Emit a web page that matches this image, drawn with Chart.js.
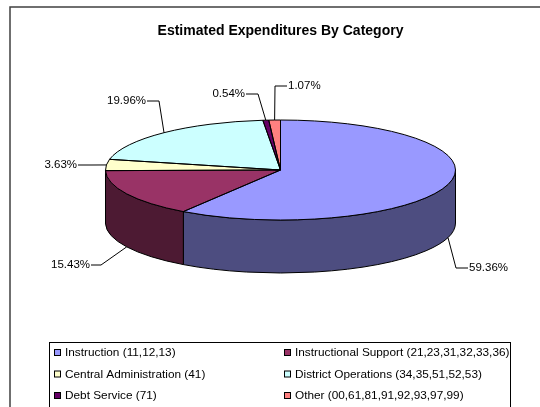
<!DOCTYPE html>
<html>
<head>
<meta charset="utf-8">
<title>Estimated Expenditures By Category</title>
<script src="https://cdn.jsdelivr.net/npm/chart.js@4"></script>
<style>
  html, body { margin: 0; padding: 0; background: #fff; overflow: hidden; }
  canvas { display: block; }
</style>
</head>
<body>
<canvas id="myCanvas" width="540" height="407"></canvas>
<script>
const categories = [
  "Instruction (11,12,13)",
  "Instructional Support (21,23,31,32,33,36)",
  "Central Administration (41)",
  "District Operations (34,35,51,52,53)",
  "Debt Service (71)",
  "Other (00,61,81,91,92,93,97,99)",
];
const percentages = [59.36, 15.43, 3.63, 19.96, 0.54, 1.07];
const sliceColors = ["#9999FF", "#993366", "#FFFFCC", "#CCFFFF", "#660066", "#FF8080"];
const wallColors = ["#4D4D80", "#4D1A33", "#808066", "#668080", "#330033", "#804040"];

const FONT = '"Liberation Sans", Arial, sans-serif';
const centerY = 170;
const squash = 50 / 175;
const depth = 53;

// where each percentage label sits: knee of the leader line, then its end
const leaders = [
  { knee: [456, 268], end: [468, 268], align: "left" },
  { knee: [101, 265], end: [91, 265], align: "right" },
  { knee: [92, 165], end: [78, 165], align: "right" },
  { knee: [159, 101], end: [147, 101], align: "right" },
  { knee: [258, 94], end: [246, 94], align: "right" },
  { knee: [275, 86], end: [287, 86], align: "left" },
];

function drawFrame(ctx) {
  ctx.save();
  ctx.strokeStyle = "#404040";
  ctx.lineWidth = 1.5;
  ctx.strokeRect(10, 7, 560, 430);
  ctx.restore();
}

function drawWalls(chart) {
  const ctx = chart.ctx;
  chart.getDatasetMeta(0).data.forEach(function (arc, i) {
    // only the front half of the rim can be seen
    let start = arc.startAngle;
    let end = arc.endAngle;
    const pieces = [[start, end], [start - Math.PI * 2, end - Math.PI * 2]];
    pieces.forEach(function (p) {
      const a = Math.max(p[0], 0);
      const b = Math.min(p[1], Math.PI);
      if (b <= a) return;
      const rx = arc.outerRadius;
      const ry = rx * squash;
      ctx.beginPath();
      ctx.ellipse(arc.x, centerY, rx, ry, 0, a, b);
      ctx.lineTo(arc.x + rx * Math.cos(b), centerY + ry * Math.sin(b) + depth);
      ctx.ellipse(arc.x, centerY + depth, rx, ry, 0, b, a, true);
      ctx.closePath();
      ctx.fillStyle = wallColors[i];
      ctx.fill();
      ctx.strokeStyle = "#000";
      ctx.lineWidth = 1;
      ctx.stroke();
    });
  });
}

function outlineTop(chart) {
  const ctx = chart.ctx;
  chart.getDatasetMeta(0).data.forEach(function (arc) {
    const rx = arc.outerRadius;
    ctx.beginPath();
    ctx.ellipse(arc.x, centerY, rx, rx * squash, 0, arc.startAngle, arc.endAngle);
    ctx.lineTo(arc.x, centerY);
    ctx.closePath();
    ctx.strokeStyle = "#000";
    ctx.lineWidth = 1;
    ctx.stroke();
  });
}

function drawLabels(chart) {
  const ctx = chart.ctx;
  ctx.save();
  ctx.font = "11.5px " + FONT;
  ctx.textBaseline = "middle";
  chart.getDatasetMeta(0).data.forEach(function (arc, i) {
    const mid = (arc.startAngle + arc.endAngle) / 2;
    const rx = arc.outerRadius;
    const sinMid = Math.sin(mid);
    const x = arc.x + rx * Math.cos(mid);
    const y = centerY + rx * squash * sinMid + (sinMid > 0 ? depth : 0);
    const l = leaders[i];
    ctx.beginPath();
    ctx.moveTo(x, y);
    ctx.lineTo(l.knee[0], l.knee[1]);
    ctx.lineTo(l.end[0], l.end[1]);
    ctx.strokeStyle = "#000";
    ctx.lineWidth = 1;
    ctx.stroke();
    ctx.fillStyle = "#000";
    ctx.textAlign = l.align;
    const gap = l.align === "left" ? 1 : -1;
    ctx.fillText(percentages[i].toFixed(2) + "%", l.end[0] + gap, l.end[1]);
  });
  ctx.restore();
}

function drawLegend(chart) {
  const ctx = chart.ctx;
  ctx.save();
  ctx.strokeStyle = "#000";
  ctx.lineWidth = 1;
  ctx.strokeRect(49.5, 342.5, 461, 80);
  ctx.font = "11.8px " + FONT;
  ctx.textBaseline = "middle";
  ctx.textAlign = "left";
  categories.forEach(function (name, i) {
    const col = i % 2;
    const row = Math.floor(i / 2);
    const x = col === 0 ? 54.5 : 284.5;
    const y = 353 + row * 21.5;
    ctx.fillStyle = sliceColors[i];
    ctx.fillRect(x, y - 3.5, 6, 6);
    ctx.strokeRect(x, y - 3.5, 6, 6);
    ctx.fillStyle = "#000";
    ctx.fillText(name, x + 10.5, y);
  });
  ctx.restore();
}

const fakePie3d = {
  id: "fakePie3d",
  beforeDraw: function (chart) {
    drawFrame(chart.ctx);
  },
  beforeDatasetsDraw: function (chart) {
    drawWalls(chart);
    // squash the library's round pie into the tilted top face
    const arc = chart.getDatasetMeta(0).data[0];
    const ctx = chart.ctx;
    ctx.save();
    ctx.translate(arc.x, centerY);
    ctx.scale(1, squash);
    ctx.translate(-arc.x, -arc.y);
  },
  afterDatasetsDraw: function (chart) {
    chart.ctx.restore();
    outlineTop(chart);
  },
  afterDraw: function (chart) {
    drawLabels(chart);
    drawLegend(chart);
  },
};

let myCanvas = document.getElementById("myCanvas").getContext("2d");
let chart = new Chart(myCanvas, {
  type: "pie",
  data: {
    labels: categories,
    datasets: [
      {
        data: percentages,
        backgroundColor: sliceColors,
        borderWidth: 0,
        clip: false,
      },
    ],
  },
  options: {
    responsive: false,
    animation: false,
    events: [],
    layout: {
      padding: { left: 105.5, right: 84.5, top: 0, bottom: 0 },
    },
    plugins: {
      legend: { display: false },
      tooltip: { enabled: false },
      title: {
        display: true,
        text: "Estimated Expenditures By Category",
        color: "#000",
        font: { family: FONT, size: 14, weight: "bold" },
        padding: { top: 23, bottom: 0 },
      },
    },
  },
  plugins: [fakePie3d],
});
</script>
</body>
</html>
